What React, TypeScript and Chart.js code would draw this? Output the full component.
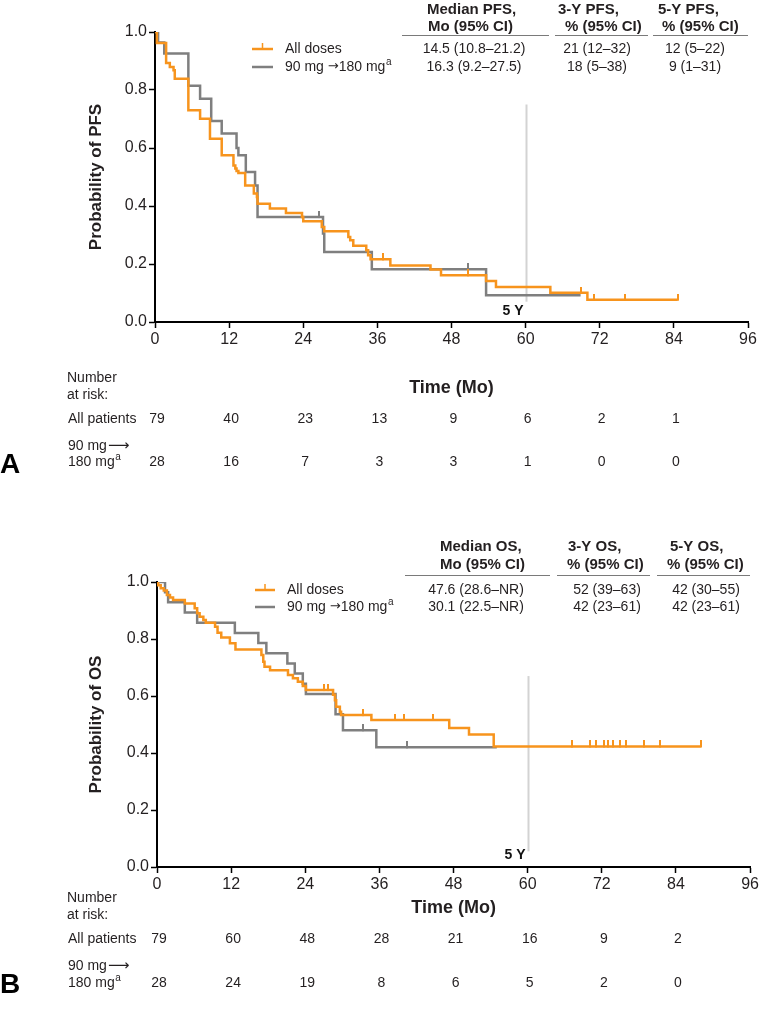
import React, { useEffect, useRef } from "react";
import { Chart, registerables } from "chart.js";

Chart.register(...registerables);

const FONT = '"Liberation Sans", Arial, Helvetica, "DejaVu Sans", sans-serif';
const ARROW_FONT = '"DejaVu Sans", sans-serif';
const ORANGE = "#F7941D";
const GRAY = "#7F7F7F";
const TEXT = "#231F20";

// ---------- axes ----------
const xTickValues = [0, 12, 24, 36, 48, 60, 72, 84, 96];
const riskTimes = [0, 12, 24, 36, 48, 60, 72, 84];
const fiveYearMonth = 60;

// ---------- PFS (panel A) ----------
const pfsAllTimes = [0, 0.3, 1.8, 2.4, 3.0, 3.2, 5.4, 7.3, 8.9, 10.8, 12.7, 13.0, 13.2, 13.5, 14.6, 16.0, 16.5, 16.6, 18.6, 21.2, 23.8, 24.0, 27.0, 27.4, 31.3, 31.6, 32.1, 34.2, 34.5, 34.9, 38.1, 44.6, 46.3, 53.6, 55.2, 64.0, 70.0, 84.6];
const pfsAllSurv = [1, 0.962, 0.893, 0.879, 0.868, 0.839, 0.73, 0.701, 0.632, 0.575, 0.54, 0.529, 0.521, 0.514, 0.471, 0.443, 0.431, 0.408, 0.391, 0.376, 0.362, 0.347, 0.328, 0.313, 0.293, 0.282, 0.263, 0.247, 0.23, 0.216, 0.195, 0.181, 0.161, 0.141, 0.121, 0.101, 0.077, 0.077];
const pfsAllCensor = [36.9, 50.6, 68.9, 71.1, 76.1, 84.6];

const pfsLowTimes = [0, 0.5, 1.5, 5.4, 7.3, 9.1, 10.8, 13.2, 13.5, 14.7, 16.2, 16.6, 27.2, 27.4, 35.1, 53.6, 68.9];
const pfsLowSurv = [1, 0.964, 0.926, 0.815, 0.77, 0.693, 0.65, 0.6, 0.575, 0.517, 0.471, 0.362, 0.305, 0.241, 0.182, 0.092, 0.092];
const pfsLowCensor = [26.6, 50.6];

const pfsRiskAll = [79, 40, 23, 13, 9, 6, 2, 1];
const pfsRiskLow = [28, 16, 7, 3, 3, 1, 0, 0];

const pfsHeaderTop = ["Median PFS,", "3-Y PFS,", "5-Y PFS,"];
const pfsHeaderBottom = ["Mo (95% CI)", "% (95% CI)", "% (95% CI)"];
const pfsAllStats = ["14.5 (10.8\u201321.2)", "21 (12\u201332)", "12 (5\u201322)"];
const pfsLowStats = ["16.3 (9.2\u201327.5)", "18 (5\u201338)", "9 (1\u201331)"];

// ---------- OS (panel B) ----------
const osAllTimes = [0, 0.2, 0.6, 1.1, 1.6, 2.1, 2.6, 4.5, 6.1, 6.5, 6.9, 7.5, 7.9, 9.4, 9.8, 10.4, 11.8, 12.7, 16.9, 17.2, 17.4, 18.3, 21.2, 22.0, 22.8, 23.6, 24.1, 28.5, 28.8, 29.0, 29.6, 29.8, 34.7, 47.3, 50.5, 54.5, 88.0];
const osAllSurv = [1, 0.989, 0.978, 0.97, 0.954, 0.946, 0.937, 0.925, 0.908, 0.89, 0.878, 0.867, 0.857, 0.843, 0.822, 0.805, 0.785, 0.763, 0.744, 0.72, 0.703, 0.69, 0.674, 0.662, 0.65, 0.635, 0.621, 0.604, 0.585, 0.562, 0.545, 0.533, 0.516, 0.488, 0.465, 0.423, 0.423];
const osAllCensor = [27.1, 27.7, 33.3, 38.6, 39.9, 44.6, 67.2, 70.1, 71.1, 72.4, 73.0, 73.8, 75.0, 75.9, 78.8, 81.4, 88.0];

const osLowTimes = [0, 1.3, 1.8, 4.5, 6.5, 12.6, 16.4, 17.7, 21.1, 22.3, 23.6, 24.1, 28.9, 30.1, 35.5, 55.0];
const osLowSurv = [1, 0.964, 0.929, 0.893, 0.857, 0.821, 0.786, 0.75, 0.714, 0.679, 0.643, 0.607, 0.536, 0.48, 0.42, 0.42];
const osLowCensor = [33.3, 40.5];

const osRiskAll = [79, 60, 48, 28, 21, 16, 9, 2];
const osRiskLow = [28, 24, 19, 8, 6, 5, 2, 0];

const osHeaderTop = ["Median OS,", "3-Y OS,", "5-Y OS,"];
const osHeaderBottom = ["Mo (95% CI)", "% (95% CI)", "% (95% CI)"];
const osAllStats = ["47.6 (28.6\u2013NR)", "52 (39\u201363)", "42 (30\u201355)"];
const osLowStats = ["30.1 (22.5\u2013NR)", "42 (23\u201361)", "42 (23\u201361)"];

const legendAll = "All doses";
const legendLowParts = ["90 mg ", "\u2192", "180 mg"];

// ---------- helpers ----------
function survAt(times: number[], surv: number[], t: number) {
  let v = surv[0];
  for (let i = 0; i < times.length; i++) if (times[i] <= t) v = surv[i];
  return v;
}
function km(times: number[], surv: number[]) {
  return times.map((t, i) => ({ x: t, y: surv[i] }));
}
function censorPts(times: number[], surv: number[], cens: number[]) {
  return cens.map((t) => ({ x: t, y: survAt(times, surv, t) }));
}
function tickImage(color: string) {
  const c = document.createElement("canvas");
  c.width = 2;
  c.height = 12;
  const g = c.getContext("2d")!;
  g.fillStyle = color;
  g.fillRect(0, 0, 2, 7);
  return c;
}

interface PanelCfg {
  height: number;
  padTop: number;
  padRight: number;
  yWidth: number;
  xHeight: number;
  yTitle: string;
  letter: string;
  letterY: number;
  headTop: string[];
  headBottom: string[];
  headX: number[];
  headY: [number, number];
  rules: number[][];
  ruleY: number;
  stats: string[][];
  statX: number[];
  rowY: number[];
  legendLine: [number, number, number];
  riskAll: number[];
  riskLow: number[];
  riskRows: { number: number; atRisk: number; time: number; all: number; low1: number; low2: number };
  fiveYRange: [number, number, number];
  allTimes: number[]; allSurv: number[]; allCens: number[];
  lowTimes: number[]; lowSurv: number[]; lowCens: number[];
}

function drawSupA(ctx: CanvasRenderingContext2D, x: number, y: number, size: number) {
  ctx.font = `${Math.round(size * 0.68)}px ${FONT}`;
  ctx.textAlign = "left";
  ctx.fillText("a", x + 0.5, y - size * 0.35);
}

function drawText(ctx: CanvasRenderingContext2D, text: string, x: number, y: number, font: string) {
  ctx.font = font;
  ctx.textAlign = "left";
  ctx.fillText(text, x, y);
  return x + ctx.measureText(text).width;
}

function makePlugin(cfg: PanelCfg) {
  return {
    id: "kmDecor",
    beforeDatasetsDraw(chart: any) {
      const ctx = chart.ctx as CanvasRenderingContext2D;
      const xs = chart.scales.x;
      const ys = chart.scales.y;
      const px = Math.round(xs.getPixelForValue(fiveYearMonth)) + 0.5;
      ctx.save();
      ctx.strokeStyle = "#D3D3D3";
      ctx.lineWidth = 2;
      ctx.beginPath();
      ctx.moveTo(px, ys.getPixelForValue(cfg.fiveYRange[0]));
      ctx.lineTo(px, ys.getPixelForValue(cfg.fiveYRange[1]));
      ctx.stroke();
      ctx.fillStyle = "#111";
      ctx.font = `bold 14px ${FONT}`;
      ctx.textAlign = "right";
      ctx.textBaseline = "middle";
      ctx.fillText("5 Y", px - 3, ys.getPixelForValue(cfg.fiveYRange[2]));
      ctx.restore();
    },
    afterDraw(chart: any) {
      const ctx = chart.ctx as CanvasRenderingContext2D;
      const xs = chart.scales.x;
      const area = chart.chartArea;
      ctx.save();
      ctx.fillStyle = TEXT;
      // y title
      ctx.save();
      ctx.translate(96, (area.top + area.bottom) / 2);
      ctx.rotate(-Math.PI / 2);
      ctx.font = `bold 17px ${FONT}`;
      ctx.textAlign = "center";
      ctx.textBaseline = "middle";
      ctx.fillText(cfg.yTitle, 0, 0);
      ctx.restore();

      // stats table headers
      ctx.font = `bold 15px ${FONT}`;
      ctx.textAlign = "left";
      ctx.textBaseline = "middle";
      cfg.headTop.forEach((t, i) => ctx.fillText(t, cfg.headX[i * 2], cfg.headY[0]));
      cfg.headBottom.forEach((t, i) => ctx.fillText(t, cfg.headX[i * 2 + 1], cfg.headY[1]));
      ctx.strokeStyle = "#7a7a7a";
      ctx.lineWidth = 1.2;
      cfg.rules.forEach(([a, b]) => {
        ctx.beginPath();
        ctx.moveTo(a, cfg.ruleY);
        ctx.lineTo(b, cfg.ruleY);
        ctx.stroke();
      });
      ctx.font = `14px ${FONT}`;
      ctx.textAlign = "center";
      cfg.stats.forEach((row, r) => row.forEach((t, i) => ctx.fillText(t, cfg.statX[i], cfg.rowY[r])));

      // legend
      const [l0, l1, lt] = cfg.legendLine;
      ctx.lineWidth = 2.5;
      ctx.strokeStyle = ORANGE;
      ctx.beginPath();
      ctx.moveTo(l0, cfg.rowY[0]);
      ctx.lineTo(l1, cfg.rowY[0]);
      ctx.stroke();
      ctx.lineWidth = 1.5;
      ctx.beginPath();
      ctx.moveTo((l0 + l1) / 2, cfg.rowY[0] - 6);
      ctx.lineTo((l0 + l1) / 2, cfg.rowY[0]);
      ctx.stroke();
      ctx.lineWidth = 2.5;
      ctx.strokeStyle = GRAY;
      ctx.beginPath();
      ctx.moveTo(l0, cfg.rowY[1]);
      ctx.lineTo(l1, cfg.rowY[1]);
      ctx.stroke();
      drawText(ctx, legendAll, lt, cfg.rowY[0], `14px ${FONT}`);
      let cx = drawText(ctx, legendLowParts[0], lt, cfg.rowY[1], `14px ${FONT}`);
      cx = drawText(ctx, legendLowParts[1], cx, cfg.rowY[1], `13px ${ARROW_FONT}`);
      cx = drawText(ctx, legendLowParts[2], cx, cfg.rowY[1], `14px ${FONT}`);
      drawSupA(ctx, cx, cfg.rowY[1], 14);

      // x title
      ctx.font = `bold 18px ${FONT}`;
      ctx.textAlign = "center";
      ctx.fillText("Time (Mo)", (area.left + area.right) / 2, cfg.riskRows.time);

      // number at risk
      ctx.font = `14px ${FONT}`;
      ctx.textAlign = "left";
      ctx.fillText("Number", 67, cfg.riskRows.number);
      ctx.fillText("at risk:", 67, cfg.riskRows.atRisk);
      ctx.fillText("All patients", 68, cfg.riskRows.all);
      let ax = drawText(ctx, "90 mg", 68, cfg.riskRows.low1, `14px ${FONT}`);
      drawText(ctx, "\u27F6", ax + 1, cfg.riskRows.low1, `15px ${ARROW_FONT}`);
      ax = drawText(ctx, "180 mg", 68, cfg.riskRows.low2, `14px ${FONT}`);
      drawSupA(ctx, ax, cfg.riskRows.low2, 14);
      ctx.font = `14px ${FONT}`;
      ctx.textAlign = "center";
      riskTimes.forEach((t, i) => {
        const x = xs.getPixelForValue(t) + 2;
        ctx.fillText(String(cfg.riskAll[i]), x, cfg.riskRows.all);
        ctx.fillText(String(cfg.riskLow[i]), x, cfg.riskRows.low2);
      });

      // panel letter
      ctx.fillStyle = "#000";
      ctx.font = `bold 28px ${FONT}`;
      ctx.textAlign = "left";
      ctx.fillText(cfg.letter, 0, cfg.letterY);
      ctx.restore();
    },
  };
}

function buildChart(canvas: HTMLCanvasElement, cfg: PanelCfg) {
  const orangeTick = tickImage(ORANGE);
  const grayTick = tickImage(GRAY);
  const lineDs = (label: string, data: any[], color: string) => ({
    label,
    data,
    borderColor: color,
    backgroundColor: color,
    borderWidth: 2.5,
    stepped: true,
    pointRadius: 0,
    fill: false,
  });
  const censDs = (label: string, data: any[], img: HTMLCanvasElement) => ({
    label,
    data,
    showLine: false,
    pointStyle: img,
    pointRadius: 4,
    borderColor: "transparent",
    backgroundColor: "transparent",
  });
  return new Chart(canvas, {
    type: "line",
    data: {
      datasets: [
        censDs("All doses censored", censorPts(cfg.allTimes, cfg.allSurv, cfg.allCens), orangeTick),
        lineDs("All doses", km(cfg.allTimes, cfg.allSurv), ORANGE),
        censDs("90 mg censored", censorPts(cfg.lowTimes, cfg.lowSurv, cfg.lowCens), grayTick),
        lineDs("90 mg \u2192180 mg", km(cfg.lowTimes, cfg.lowSurv), GRAY),
      ] as any,
    },
    options: {
      animation: false,
      responsive: false,
      maintainAspectRatio: false,
      devicePixelRatio: 1,
      layout: { padding: { top: cfg.padTop, right: cfg.padRight, left: 0, bottom: 0 } },
      plugins: { legend: { display: false }, tooltip: { enabled: false } },
      scales: {
        x: {
          type: "linear",
          min: 0,
          max: 96,
          afterBuildTicks: (s: any) => {
            s.ticks = xTickValues.map((v) => ({ value: v }));
          },
          ticks: { color: TEXT, font: { family: FONT, size: 16 }, padding: 2, maxRotation: 0, autoSkip: false },
          grid: { display: true, drawOnChartArea: false, drawTicks: true, tickLength: 6, tickWidth: 1.5, color: "#000" },
          border: { display: true, color: "#000", width: 2 },
          afterFit: (s: any) => {
            s.height = cfg.xHeight;
          },
        },
        y: {
          type: "linear",
          min: 0,
          max: 1,
          ticks: {
            stepSize: 0.2,
            color: TEXT,
            font: { family: FONT, size: 16 },
            padding: 2,
            callback: (v: any) => Number(v).toFixed(1),
          },
          grid: { display: true, drawOnChartArea: false, drawTicks: true, tickLength: 6, tickWidth: 1.5, color: "#000" },
          border: { display: true, color: "#000", width: 2 },
          afterFit: (s: any) => {
            s.width = cfg.yWidth;
          },
        },
      } as any,
    },
    plugins: [makePlugin(cfg)],
  });
}

const TOP_H = 490;
const BOTTOM_H = 531;

const topCfg: PanelCfg = {
  height: TOP_H,
  padTop: 32,
  padRight: 13,
  yWidth: 155,
  xHeight: TOP_H - 322,
  yTitle: "Probability of PFS",
  letter: "A",
  letterY: 465,
  headTop: pfsHeaderTop,
  headBottom: pfsHeaderBottom,
  headX: [427, 428, 558, 565, 658, 662],
  headY: [10, 27],
  rules: [[402, 549], [555, 648], [653, 748]],
  ruleY: 35.5,
  stats: [pfsAllStats, pfsLowStats],
  statX: [474, 597, 695],
  rowY: [49, 67],
  legendLine: [252, 273, 285],
  riskAll: pfsRiskAll,
  riskLow: pfsRiskLow,
  riskRows: { number: 378, atRisk: 395, time: 388, all: 419, low1: 446, low2: 462 },
  fiveYRange: [0.75, 0.07, 0.037],
  allTimes: pfsAllTimes, allSurv: pfsAllSurv, allCens: pfsAllCensor,
  lowTimes: pfsLowTimes, lowSurv: pfsLowSurv, lowCens: pfsLowCensor,
};

const bottomCfg: PanelCfg = {
  height: BOTTOM_H,
  padTop: 92,
  padRight: 10,
  yWidth: 157,
  xHeight: BOTTOM_H - 377,
  yTitle: "Probability of OS",
  letter: "B",
  letterY: 985 - TOP_H,
  headTop: osHeaderTop,
  headBottom: osHeaderBottom,
  headX: [440, 440, 568, 567, 670, 667],
  headY: [547 - TOP_H, 565 - TOP_H],
  rules: [[405, 550], [557, 650], [657, 750]],
  ruleY: 575.5 - TOP_H,
  stats: [osAllStats, osLowStats],
  statX: [476, 607, 706],
  rowY: [590 - TOP_H, 607 - TOP_H],
  legendLine: [255, 275, 287],
  riskAll: osRiskAll,
  riskLow: osRiskLow,
  riskRows: { number: 898 - TOP_H, atRisk: 915 - TOP_H, time: 908 - TOP_H, all: 939 - TOP_H, low1: 966 - TOP_H, low2: 983 - TOP_H },
  fiveYRange: [0.67, 0.055, 0.042],
  allTimes: osAllTimes, allSurv: osAllSurv, allCens: osAllCensor,
  lowTimes: osLowTimes, lowSurv: osLowSurv, lowCens: osLowCensor,
};

function KMPanel({ cfg, top }: { cfg: PanelCfg; top: number }) {
  const ref = useRef<HTMLCanvasElement>(null);
  useEffect(() => {
    if (!ref.current) return;
    const chart = buildChart(ref.current, cfg);
    return () => chart.destroy();
  }, [cfg]);
  return (
    <canvas
      ref={ref}
      width={761}
      height={cfg.height}
      style={{ position: "absolute", left: 0, top, width: 761, height: cfg.height }}
    />
  );
}

export default function App() {
  return (
    <div style={{ position: "absolute", left: 0, top: 0, width: 761, height: 1021, background: "#fff", overflow: "hidden" }}>
      <KMPanel cfg={topCfg} top={0} />
      <KMPanel cfg={bottomCfg} top={TOP_H} />
    </div>
  );
}
